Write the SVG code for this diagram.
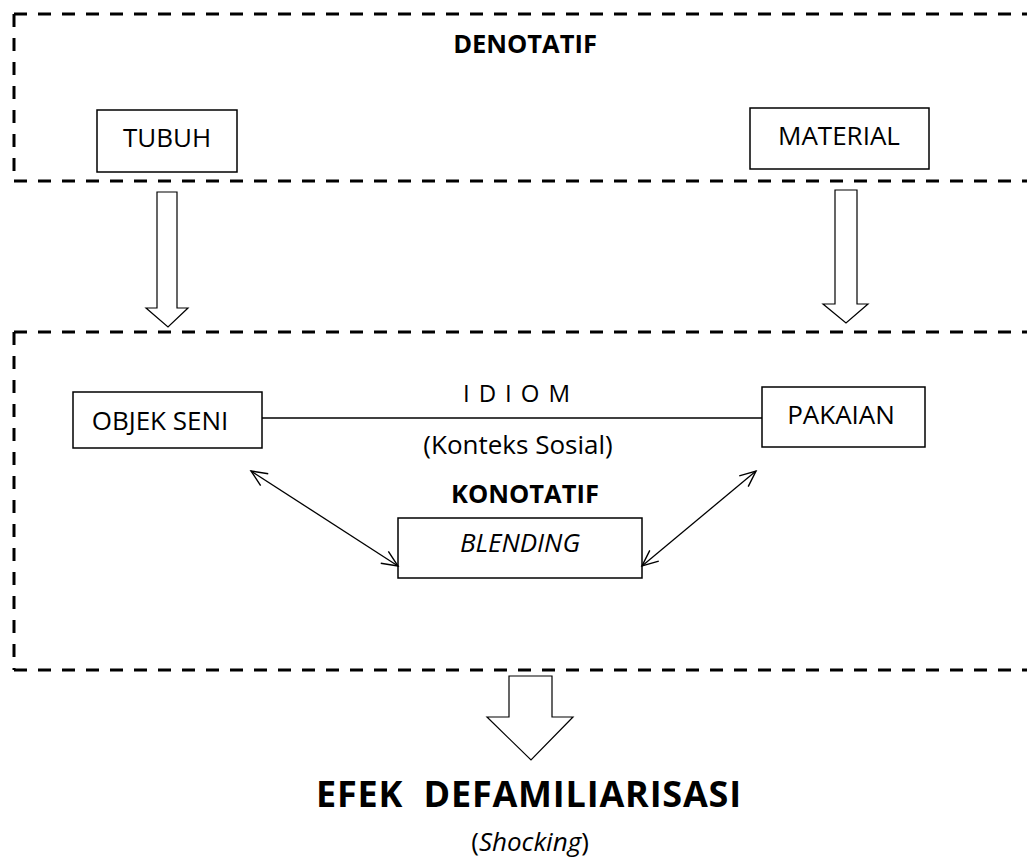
<svg xmlns="http://www.w3.org/2000/svg" width="1027" height="861" viewBox="0 0 1027 861">
<style>
.dash{fill:none;stroke:#000;stroke-width:3;stroke-dasharray:13 11}
.box{fill:#fff;stroke:#000;stroke-width:1.5}
.hollow{fill:#fff;stroke:#000;stroke-width:1.2}
.t{font-family:"Open Sans","Liberation Sans",sans-serif;fill:#000;text-anchor:middle}
.lbl{font-size:26px}
.hd{font-size:25.5px;font-weight:bold}
.i{font-style:italic}
.conn{fill:none;stroke:#000;stroke-width:1.3}
</style>
<defs>
<marker id="open" viewBox="0 0 20 20" refX="18" refY="10" markerWidth="20" markerHeight="20" markerUnits="userSpaceOnUse" orient="auto-start-reverse">
<path d="M2,3 L18,10 L2,17" fill="none" stroke="#000" stroke-width="1.4"/>
</marker>
</defs>
<g id="denotatif-frame">
<path class="dash" d="M14,14 H1040 M14,181 H1040 M14,14 V181"/>
<text class="t hd" x="525" y="53">DENOTATIF</text>
</g>
<g id="konotatif-frame">
<path class="dash" d="M14,332 H1040 M14,670 H1040 M14,332 V670"/>
</g>
<g id="tubuh">
<rect class="box" x="97" y="110" width="140" height="62"/>
<text class="t lbl" x="167" y="147">TUBUH</text>
</g>
<g id="material">
<rect class="box" x="750" y="108" width="179" height="61"/>
<text class="t lbl" x="839" y="145">MATERIAL</text>
</g>
<g id="objek-seni">
<rect class="box" x="73" y="392" width="189" height="56"/>
<text class="t lbl" x="160" y="430">OBJEK SENI</text>
</g>
<g id="pakaian">
<rect class="box" x="762" y="387" width="163" height="60"/>
<text class="t lbl" x="841" y="424">PAKAIAN</text>
</g>
<g id="blending">
<rect class="box" x="398" y="518" width="244" height="60"/>
<text class="t lbl i" x="520" y="552">BLENDING</text>
</g>
<g id="labels">
<text class="t" x="463" y="402" font-size="24" letter-spacing="9" style="text-anchor:start">IDIOM</text>
<text class="t lbl" x="518" y="454">(Konteks Sosial)</text>
<text class="t hd" x="525" y="503">KONOTATIF</text>
</g>
<g id="efek">
<text class="t" x="529" y="807" font-size="36" font-weight="bold" letter-spacing="0.8" xml:space="preserve">EFEK  DEFAMILIARISASI</text>
<text class="t" x="530" y="851" font-size="26">(<tspan class="i">Shocking</tspan>)</text>
</g>
<g id="connectors">
<polygon class="hollow" points="157,192 177,192 177,308 188,308 168,327 146,308 157,308"/>
<polygon class="hollow" points="835,190 857,190 857,304 868,304 846,323 823,304 835,304"/>
<polygon class="hollow" points="509,676 552,676 552,717 573,717 531,760 487,717 509,717"/>
<line class="conn" x1="262" y1="418" x2="762" y2="418"/>
<line class="conn" x1="251" y1="471" x2="398" y2="566" marker-start="url(#open)" marker-end="url(#open)"/>
<line class="conn" x1="642" y1="566" x2="756" y2="471" marker-start="url(#open)" marker-end="url(#open)"/>
</g>
</svg>
